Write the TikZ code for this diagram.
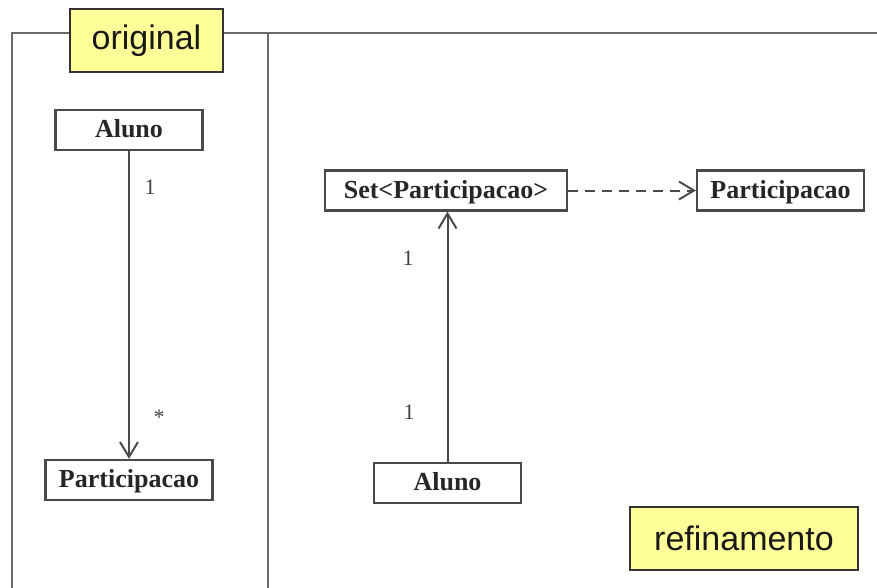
\documentclass[tikz,border=0pt]{standalone}
\usepackage{fontspec}
\setmainfont{Liberation Serif}
\newfontfamily\labelfont{Liberation Sans}
\usetikzlibrary{arrows.meta}
\definecolor{framegray}{HTML}{6A6A6A}
\definecolor{linegray}{HTML}{4A4A4A}
\definecolor{tagyellow}{HTML}{FFFF99}
\tikzset{
  classbox/.style={draw=linegray, line width=2.2pt, fill=white, inner sep=0pt,
    minimum height=40pt, text height=18pt, text depth=3pt,
    font=\fontsize{26}{28}\selectfont\bfseries, text=black!85},
  tagbox/.style={draw=black!80, line width=1.8pt, fill=tagyellow, inner sep=0pt,
    minimum height=63pt, font=\labelfont\fontsize{34}{36}\selectfont, text=black!90},
  mult/.style={font=\fontsize{22}{24}\selectfont, text=black!75, inner sep=0pt},
  assoc/.style={draw=linegray, line width=2pt, -{Straight Barb[length=15pt,width=18pt,line width=2pt]}},
  depend/.style={assoc, dashed, dash pattern=on 10pt off 7pt},
  frame/.style={draw=framegray, line width=2.2pt}
}
\begin{document}
\begin{tikzpicture}[x=1pt,y=-1pt]
  \useasboundingbox (0,0) rectangle (877,588);
  % section frame
  \draw[frame] (12,588) -- (12,33) -- (877,33);
  \draw[frame] (268,33) -- (268,588);
  % left side: original model
  \node[tagbox, minimum width=153pt] (orig) at (146.5,40.5) {original};
  \node[classbox, minimum width=147pt] (alunoL) at (129,130) {Aluno};
  \node[classbox, minimum width=167pt] (partL) at (129,480) {Participacao};
  \draw[assoc] (alunoL.south) -- (partL.north);
  \node[mult] (m1) at (150,187) {1};
  \node[mult] (m2) at (159,417) {*};
  % right side: refined model
  \node[classbox, minimum width=242pt] (setP) at (446,190.5) {Set<Participacao>};
  \node[classbox, minimum width=167pt] (partR) at (780.5,190.5) {Participacao};
  \node[classbox, minimum width=147pt] (alunoR) at (447.5,483) {Aluno};
  \draw[depend] (setP.east) -- (partR.west);
  \draw[assoc] (alunoR.north) -- (alunoR.north |- setP.south);
  \node[mult] (m3) at (408,258) {1};
  \node[mult] (m4) at (409,412) {1};
  \node[tagbox, minimum width=228pt] (refin) at (744,538.5) {refinamento};
\end{tikzpicture}
\end{document}
